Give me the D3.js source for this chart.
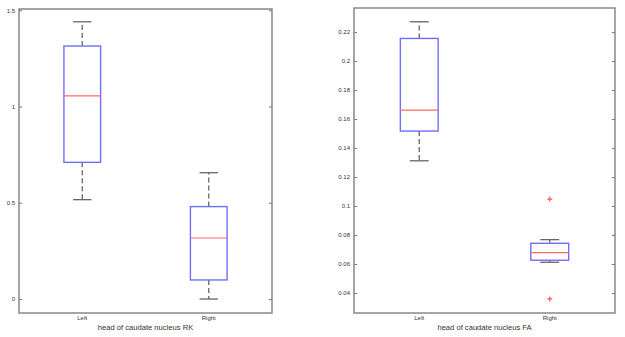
<!DOCTYPE html>
<html>
<head>
  <style>
    body { margin: 0; background: #fff; }
    text { font-family: Arial, "Liberation Sans", sans-serif; fill: #333; }
    .tick line { stroke: #777; }
    .domain { display: none; }
  </style>
  <script src="https://d3js.org/d3.v7.min.js"></script>
</head>
<body>
  <svg width="625" height="337"></svg>
  <script>
    // categories
    var groups = ["Left", "Right"];

    // five-number summaries: [lowCap, q1, median, q3, highCap]
    var statsRK = [
      [0.516, 0.71, 1.055, 1.314, 1.44],
      [0.0, 0.099, 0.317, 0.48, 0.656]
    ];
    var outliersRK = [[], []];

    var statsFA = [
      [0.1312, 0.1517, 0.1662, 0.2156, 0.2271],
      [0.0612, 0.0626, 0.0678, 0.0743, 0.0768]
    ];
    var outliersFA = [[], [0.1048, 0.0359]];

    // tick labels
    var ticksRK = [0, 0.5, 1, 1.5];
    var ticksFA = [0.04, 0.06, 0.08, 0.1, 0.12, 0.14, 0.16, 0.18, 0.2, 0.22];

    var svg = d3.select("svg");

    function panel(opts) {
      var g = svg.append("g");
      var x = d3.scaleLinear().domain([0.5, 2.5]).range([opts.left, opts.right]);
      var y = d3.scaleLinear().domain(opts.yDomain).range([313, opts.top]);
      var halfW = 0.145 * (x(1) - x(0));

      // ticks on left and right side, pointing inward
      g.append("g")
        .attr("transform", "translate(" + opts.left + ",0)")
        .call(d3.axisLeft(y).tickValues(opts.ticks).tickSizeInner(-3).tickSizeOuter(0)
          .tickPadding(4).tickFormat(function (d) { return String(d); }))
        .selectAll("text").style("font-size", "6px").attr("fill", "#333");
      g.append("g")
        .attr("transform", "translate(" + opts.right + ",0)")
        .call(d3.axisRight(y).tickValues(opts.ticks).tickSizeInner(-3).tickSizeOuter(0)
          .tickFormat(""));

      // x labels
      g.selectAll(".xl").data(opts.groups).enter().append("text")
        .attr("x", function (d, i) { return x(i + 1); })
        .attr("y", 320)
        .attr("text-anchor", "middle")
        .style("font-size", "6px")
        .text(function (d) { return d; });

      g.append("text")
        .attr("x", (opts.left + opts.right) / 2)
        .attr("y", 330)
        .attr("text-anchor", "middle")
        .style("font-size", "7.6px")
        .attr("fill", "#444")
        .text(opts.title);

      var box = g.selectAll(".box").data(opts.stats).enter().append("g");

      // whiskers
      box.append("line")
        .attr("x1", function (d, i) { return x(i + 1); })
        .attr("x2", function (d, i) { return x(i + 1); })
        .attr("y1", function (d) { return y(d[3]); })
        .attr("y2", function (d) { return y(d[4]); })
        .attr("stroke", "#666").attr("stroke-width", 1.3).attr("stroke-dasharray", "5,3");
      box.append("line")
        .attr("x1", function (d, i) { return x(i + 1); })
        .attr("x2", function (d, i) { return x(i + 1); })
        .attr("y1", function (d) { return y(d[1]); })
        .attr("y2", function (d) { return y(d[0]); })
        .attr("stroke", "#666").attr("stroke-width", 1.3).attr("stroke-dasharray", "5,3");
      [0, 4].forEach(function (k) {
        box.append("line")
          .attr("x1", function (d, i) { return x(i + 1) - halfW / 2; })
          .attr("x2", function (d, i) { return x(i + 1) + halfW / 2; })
          .attr("y1", function (d) { return y(d[k]); })
          .attr("y2", function (d) { return y(d[k]); })
          .attr("stroke", "#666").attr("stroke-width", 1.3);
      });

      // box
      box.append("rect")
        .attr("x", function (d, i) { return x(i + 1) - halfW; })
        .attr("width", 2 * halfW)
        .attr("y", function (d) { return y(d[3]); })
        .attr("height", function (d) { return y(d[1]) - y(d[3]); })
        .attr("fill", "none").attr("stroke", "#6f6fff").attr("stroke-width", 1.4);

      // median
      box.append("line")
        .attr("x1", function (d, i) { return x(i + 1) - halfW; })
        .attr("x2", function (d, i) { return x(i + 1) + halfW; })
        .attr("y1", function (d) { return y(d[2]); })
        .attr("y2", function (d) { return y(d[2]); })
        .attr("stroke", "#ff6a6a").attr("stroke-width", 1.2);

      // outliers
      opts.outliers.forEach(function (list, i) {
        g.selectAll(null).data(list).enter().append("path")
          .attr("transform", function (v) { return "translate(" + x(i + 1) + "," + y(v) + ")"; })
          .attr("d", "M-2.5,0H2.5M0,-2.5V2.5")
          .attr("stroke", "#ff5555").attr("stroke-width", 1.2);
      });

      // frame
      g.append("rect")
        .attr("x", opts.left).attr("y", opts.top)
        .attr("width", opts.right - opts.left).attr("height", 313 - opts.top)
        .attr("fill", "none").attr("stroke", "#808080").attr("stroke-width", 1.4);
    }

    panel({
      left: 19, right: 272, top: 9,
      yDomain: [-0.0727, 1.5065],
      ticks: ticksRK, groups: groups,
      stats: statsRK, outliers: outliersRK,
      title: "head of caudate nucleus RK"
    });

    panel({
      left: 354, right: 615, top: 8,
      yDomain: [0.0262, 0.2366],
      ticks: ticksFA, groups: groups,
      stats: statsFA, outliers: outliersFA,
      title: "head of caudate nucleus FA"
    });
  </script>
</body>
</html>
